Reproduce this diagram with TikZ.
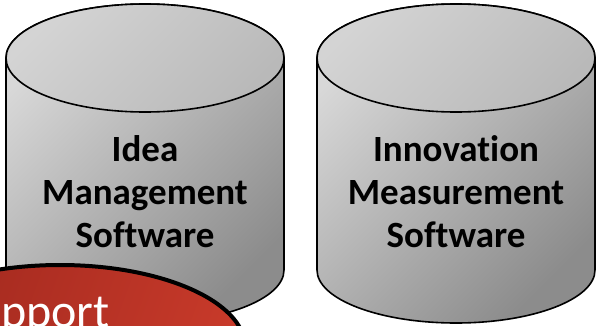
\documentclass[tikz,border=0pt]{standalone}
\usepackage{fontspec}
\setmainfont{Carlito}[Ligatures=NoCommon]
\usepackage{tikz}
\usetikzlibrary{positioning}
\definecolor{cylhi}{RGB}{216,216,216}
\definecolor{cyllo}{RGB}{140,140,140}
\definecolor{cyltop}{RGB}{212,212,212}
\definecolor{cyltoplo}{RGB}{185,185,185}
\definecolor{bubhi}{RGB}{160,40,30}
\definecolor{bublo}{RGB}{200,58,42}
\tikzset{cylbody/.style={top color=cylhi, bottom color=cyllo, shading angle=45, draw=black, line width=1.6pt},
cyltop/.style={top color=cyltop, bottom color=cyltoplo, shading angle=45, draw=black, line width=1.6pt},
cyltext/.style={align=center, font=\fontsize{37}{43}\selectfont\bfseries, inner sep=0pt},
bubble/.style={left color=bubhi, right color=bublo, shading angle=70, draw=black, line width=4pt}}

\begin{document}
\begin{tikzpicture}[x=1pt,y=1pt]
\useasboundingbox (0,0) rectangle (602,325);
\clip (0,0) rectangle (602,325);
% left store
\shade[cylbody] (6,267) -- (6,55) arc[start angle=180,end angle=360,x radius=139,y radius=53] -- (284,267) arc[start angle=0,end angle=180,x radius=139,y radius=54] -- cycle;
\shade[cyltop] (145,267) ellipse [x radius=139,y radius=54];
\node[cyltext] (idea) at (145,133) {Idea\\Management\\Software};
% right store
\shade[cylbody] (317,267) -- (317,55) arc[start angle=180,end angle=360,x radius=139,y radius=53] -- (595,267) arc[start angle=0,end angle=180,x radius=139,y radius=54] -- cycle;
\shade[cyltop] (456,267) ellipse [x radius=139,y radius=54];
\node[cyltext] (innov) at (456,133) {Innovation\\Measurement\\Software};
% support bubble
\shade[bubble] (60,-22) ellipse [x radius=185,y radius=82];
\node[anchor=base east, inner sep=0pt, text=white, font=\fontsize{48}{48}\selectfont] (support) at (110,-2) {Support};
\end{tikzpicture}
\end{document}
